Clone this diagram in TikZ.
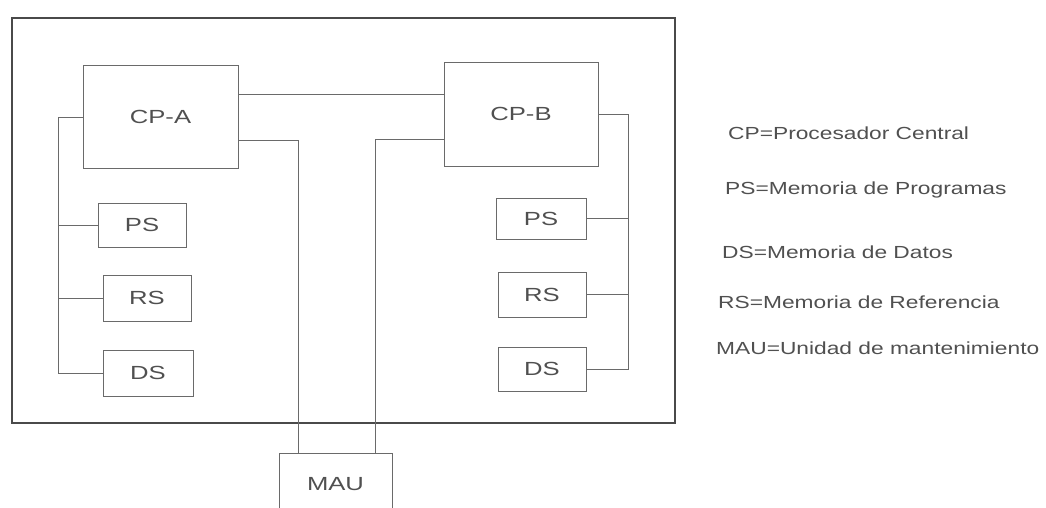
\documentclass[tikz,border=0pt]{standalone}
\usepackage{fontspec}
\setmainfont{Liberation Sans}
\usetikzlibrary{calc}
\definecolor{linegray}{HTML}{6A6A6A}
\definecolor{framegray}{HTML}{4A4A4A}
\definecolor{textgray}{HTML}{505050}
\newcommand{\widetext}[1]{\scalebox{1.35}[1]{#1}}
\newcommand{\legtext}[1]{\scalebox{1.30}[1]{#1}}
\tikzset{
  unitbox/.style={draw=linegray, line width=1pt, inner sep=0pt, text=textgray,
    font=\fontsize{19}{22}\selectfont},
  bus/.style={draw=linegray, line width=1pt},
  legend/.style={anchor=west, inner sep=0pt, text=textgray,
    font=\fontsize{17.5}{20}\selectfont}
}
\begin{document}
\begin{tikzpicture}[x=1pt,y=-1pt]
\useasboundingbox (0,0) rectangle (1046,507);
% outer frame
\draw[draw=framegray, line width=1.8pt] (12,18) rectangle (675,423);
% units
\node[unitbox, minimum width=155pt, minimum height=103pt] (cpa) at (160.5,116.5) {\widetext{CP-A}};
\node[unitbox, minimum width=154pt, minimum height=104pt] (cpb) at (521,114) {\widetext{CP-B}};
\node[unitbox, minimum width=88pt, minimum height=44pt] (psl) at (142,225) {\widetext{PS}};
\node[unitbox, minimum width=88pt, minimum height=46pt] (rsl) at (147,298) {\widetext{RS}};
\node[unitbox, minimum width=90pt, minimum height=46pt] (dsl) at (148,373) {\widetext{DS}};
\node[unitbox, minimum width=90pt, minimum height=41pt] (psr) at (541,218.5) {\widetext{PS}};
\node[unitbox, minimum width=88pt, minimum height=45pt] (rsr) at (542,294.5) {\widetext{RS}};
\node[unitbox, minimum width=88pt, minimum height=44pt] (dsr) at (542,369) {\widetext{DS}};
\node[unitbox, minimum width=113pt, minimum height=62pt] (mau) at (335.5,484) {\widetext{MAU}};
% CP-A <-> CP-B
\draw[bus] (cpa.east |- 0,94) -- (cpb.west |- 0,94);
% CP to MAU
\draw[bus] (cpa.east |- 0,140) -| (mau.north -| 298,0);
\draw[bus] (cpb.west |- 0,139) -| (mau.north -| 375,0);
% left bus
\draw[bus] (cpa.west |- 0,117) -| (dsl.west -| 58,0) -- (dsl.west);
\draw[bus] (psl.west) -- (psl.west -| 58,0);
\draw[bus] (rsl.west) -- (rsl.west -| 58,0);
% right bus
\draw[bus] (cpb.east |- 0,114) -| (dsr.east -| 628,0) -- (dsr.east);
\draw[bus] (psr.east) -- (psr.east -| 628,0);
\draw[bus] (rsr.east) -- (rsr.east -| 628,0);
% legend
\node[legend] (lcp) at (728,133) {\legtext{CP=Procesador Central}};
\node[legend] (lps) at (725,190) {\legtext{PS=Memoria de Programas}};
\node[legend] (lds) at (722,252) {\legtext{DS=Memoria de Datos}};
\node[legend] (lrs) at (718,302) {\legtext{RS=Memoria de Referencia}};
\node[legend] (lmau) at (716,348) {\legtext{MAU=Unidad de mantenimiento}};
\end{tikzpicture}
\end{document}
